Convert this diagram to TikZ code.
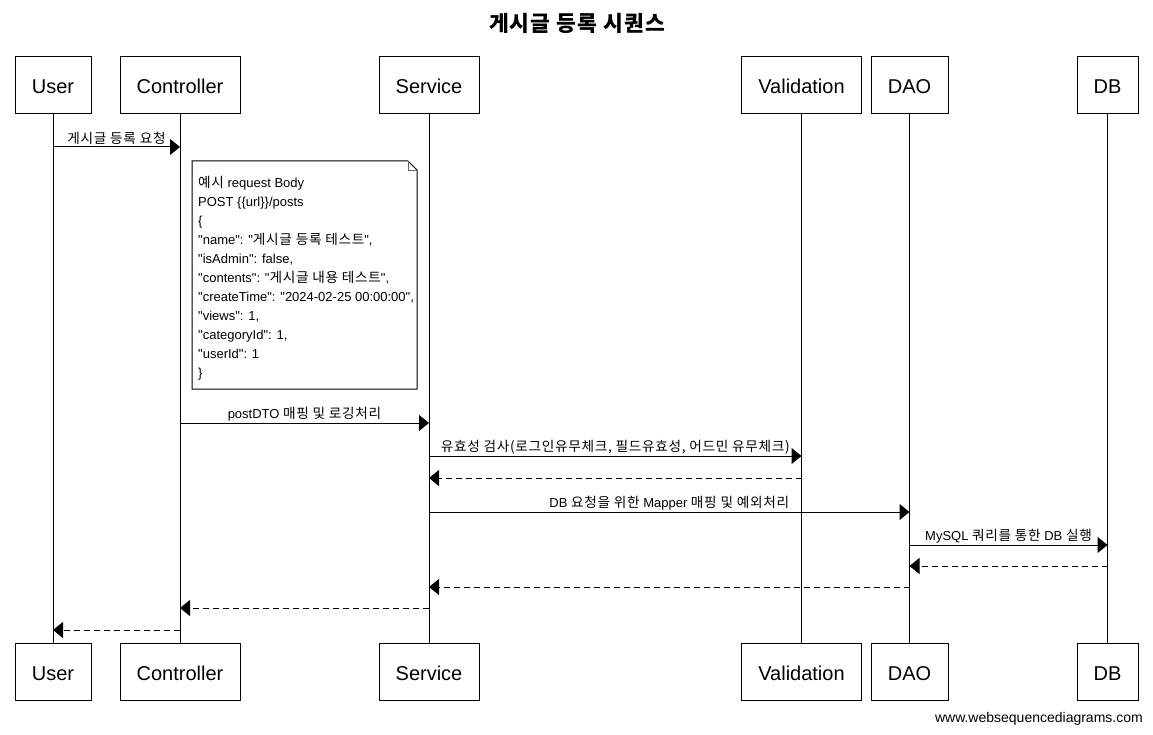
\documentclass[tikz,border=0pt]{standalone}
\usepackage{fontspec}
\setmainfont{Liberation Sans}
\newfontfamily\lat{Liberation Sans}
\newfontfamily\krfont{Noto Sans CJK KR}[Scale=1.05,LetterSpace=5]
\newcommand\hg[1]{{\krfont #1}}
\usetikzlibrary{arrows.meta}
\begin{document}
\begin{tikzpicture}[x=1pt,y=-1pt,
  part/.style={draw, line width=1pt, minimum height=57pt, inner sep=0pt, text height=17pt, text depth=0pt, font=\lat\fontsize{20}{24}\selectfont},
  life/.style={line width=1pt},
  msg/.style={line width=1pt, -{Triangle[length=10pt,width=16pt]}},
  ret/.style={msg, dash pattern=on 6pt off 4pt},
  lbl/.style={font=\lat\fontsize{13}{15}\selectfont, inner sep=0pt, yshift=9pt}
]
\useasboundingbox (0,0) rectangle (1153,735);
\node[font=\krfont\bfseries\fontsize{20.5}{24}\selectfont] (title) at (577,23) {게시글 등록 시퀀스};
% participants top
\node[part, minimum width=76pt] (ut) at (53,85.5) {User};
\node[part, minimum width=120pt] (ct) at (180,85.5) {Controller};
\node[part, minimum width=100pt] (st) at (429,85.5) {Service};
\node[part, minimum width=120pt] (vt) at (801.5,85.5) {Validation};
\node[part, minimum width=77pt] (dt) at (909.5,85.5) {DAO};
\node[part, minimum width=61pt] (bt) at (1107.5,85.5) {DB};
% participants bottom
\node[part, minimum width=76pt] (ub) at (53,671.5) {User};
\node[part, minimum width=120pt] (cb) at (180,671.5) {Controller};
\node[part, minimum width=100pt] (sb) at (429,671.5) {Service};
\node[part, minimum width=120pt] (vb) at (801.5,671.5) {Validation};
\node[part, minimum width=77pt] (db) at (909.5,671.5) {DAO};
\node[part, minimum width=61pt] (bb) at (1107.5,671.5) {DB};
% lifelines
\foreach \a/\b in {ut/ub,ct/cb,st/sb,vt/vb,dt/db,bt/bb}
  \draw[life] (\a.south) -- (\b.north);
% note
\draw[line width=1pt, fill=white] (192,161) -- (408,161) -- (417,170) -- (417,389) -- (192,389) -- cycle;
\draw[line width=0.8pt, black!60] (408,161) -- (408,170) -- (417,170);
\node[anchor=north west, inner sep=0pt, align=left, font=\lat\fontsize{13}{19}\selectfont] (note) at (198,176) {%
\hg{예시} request Body\\
POST \{\{url\}\}/posts\\
\{\\
"name": "\hg{게시글 등록 테스트}",\\
"isAdmin": false,\\
"contents": "\hg{게시글 내용 테스트}",\\
"createTime": "2024-02-25 00:00:00",\\
"views": 1,\\
"categoryId": 1,\\
"userId": 1\\
\}};
% messages
\draw[msg] (ut |- 0,147) -- (ct |- 0,147) node[lbl, midway] {\hg{게시글 등록 요청}};
\draw[msg] (ct |- 0,423) -- (st |- 0,423) node[lbl, midway] {postDTO \hg{매핑 및 로깅처리}};
\draw[msg] (st |- 0,456) -- (vt |- 0,456) node[lbl, midway] {\hg{유효성 검사(로그인유무체크, 필드유효성, 어드민 유무체크)}};
\draw[ret] (vt |- 0,478) -- (st |- 0,478);
\draw[msg] (st |- 0,512) -- (dt |- 0,512) node[lbl, midway] {DB \hg{요청을 위한} Mapper \hg{매핑 및 예외처리}};
\draw[msg] (dt |- 0,545) -- (bt |- 0,545) node[lbl, midway] {MySQL \hg{쿼리를 통한} DB \hg{실행}};
\draw[ret] (bt |- 0,566) -- (dt |- 0,566);
\draw[ret] (dt |- 0,587) -- (st |- 0,587);
\draw[ret] (st |- 0,608) -- (ct |- 0,608);
\draw[ret] (ct |- 0,630) -- (ut |- 0,630);
% watermark
\node[anchor=east, inner sep=0pt, font=\lat\fontsize{14}{16}\selectfont] (wm) at (1143,719) {www.websequencediagrams.com};
\end{tikzpicture}
\end{document}
